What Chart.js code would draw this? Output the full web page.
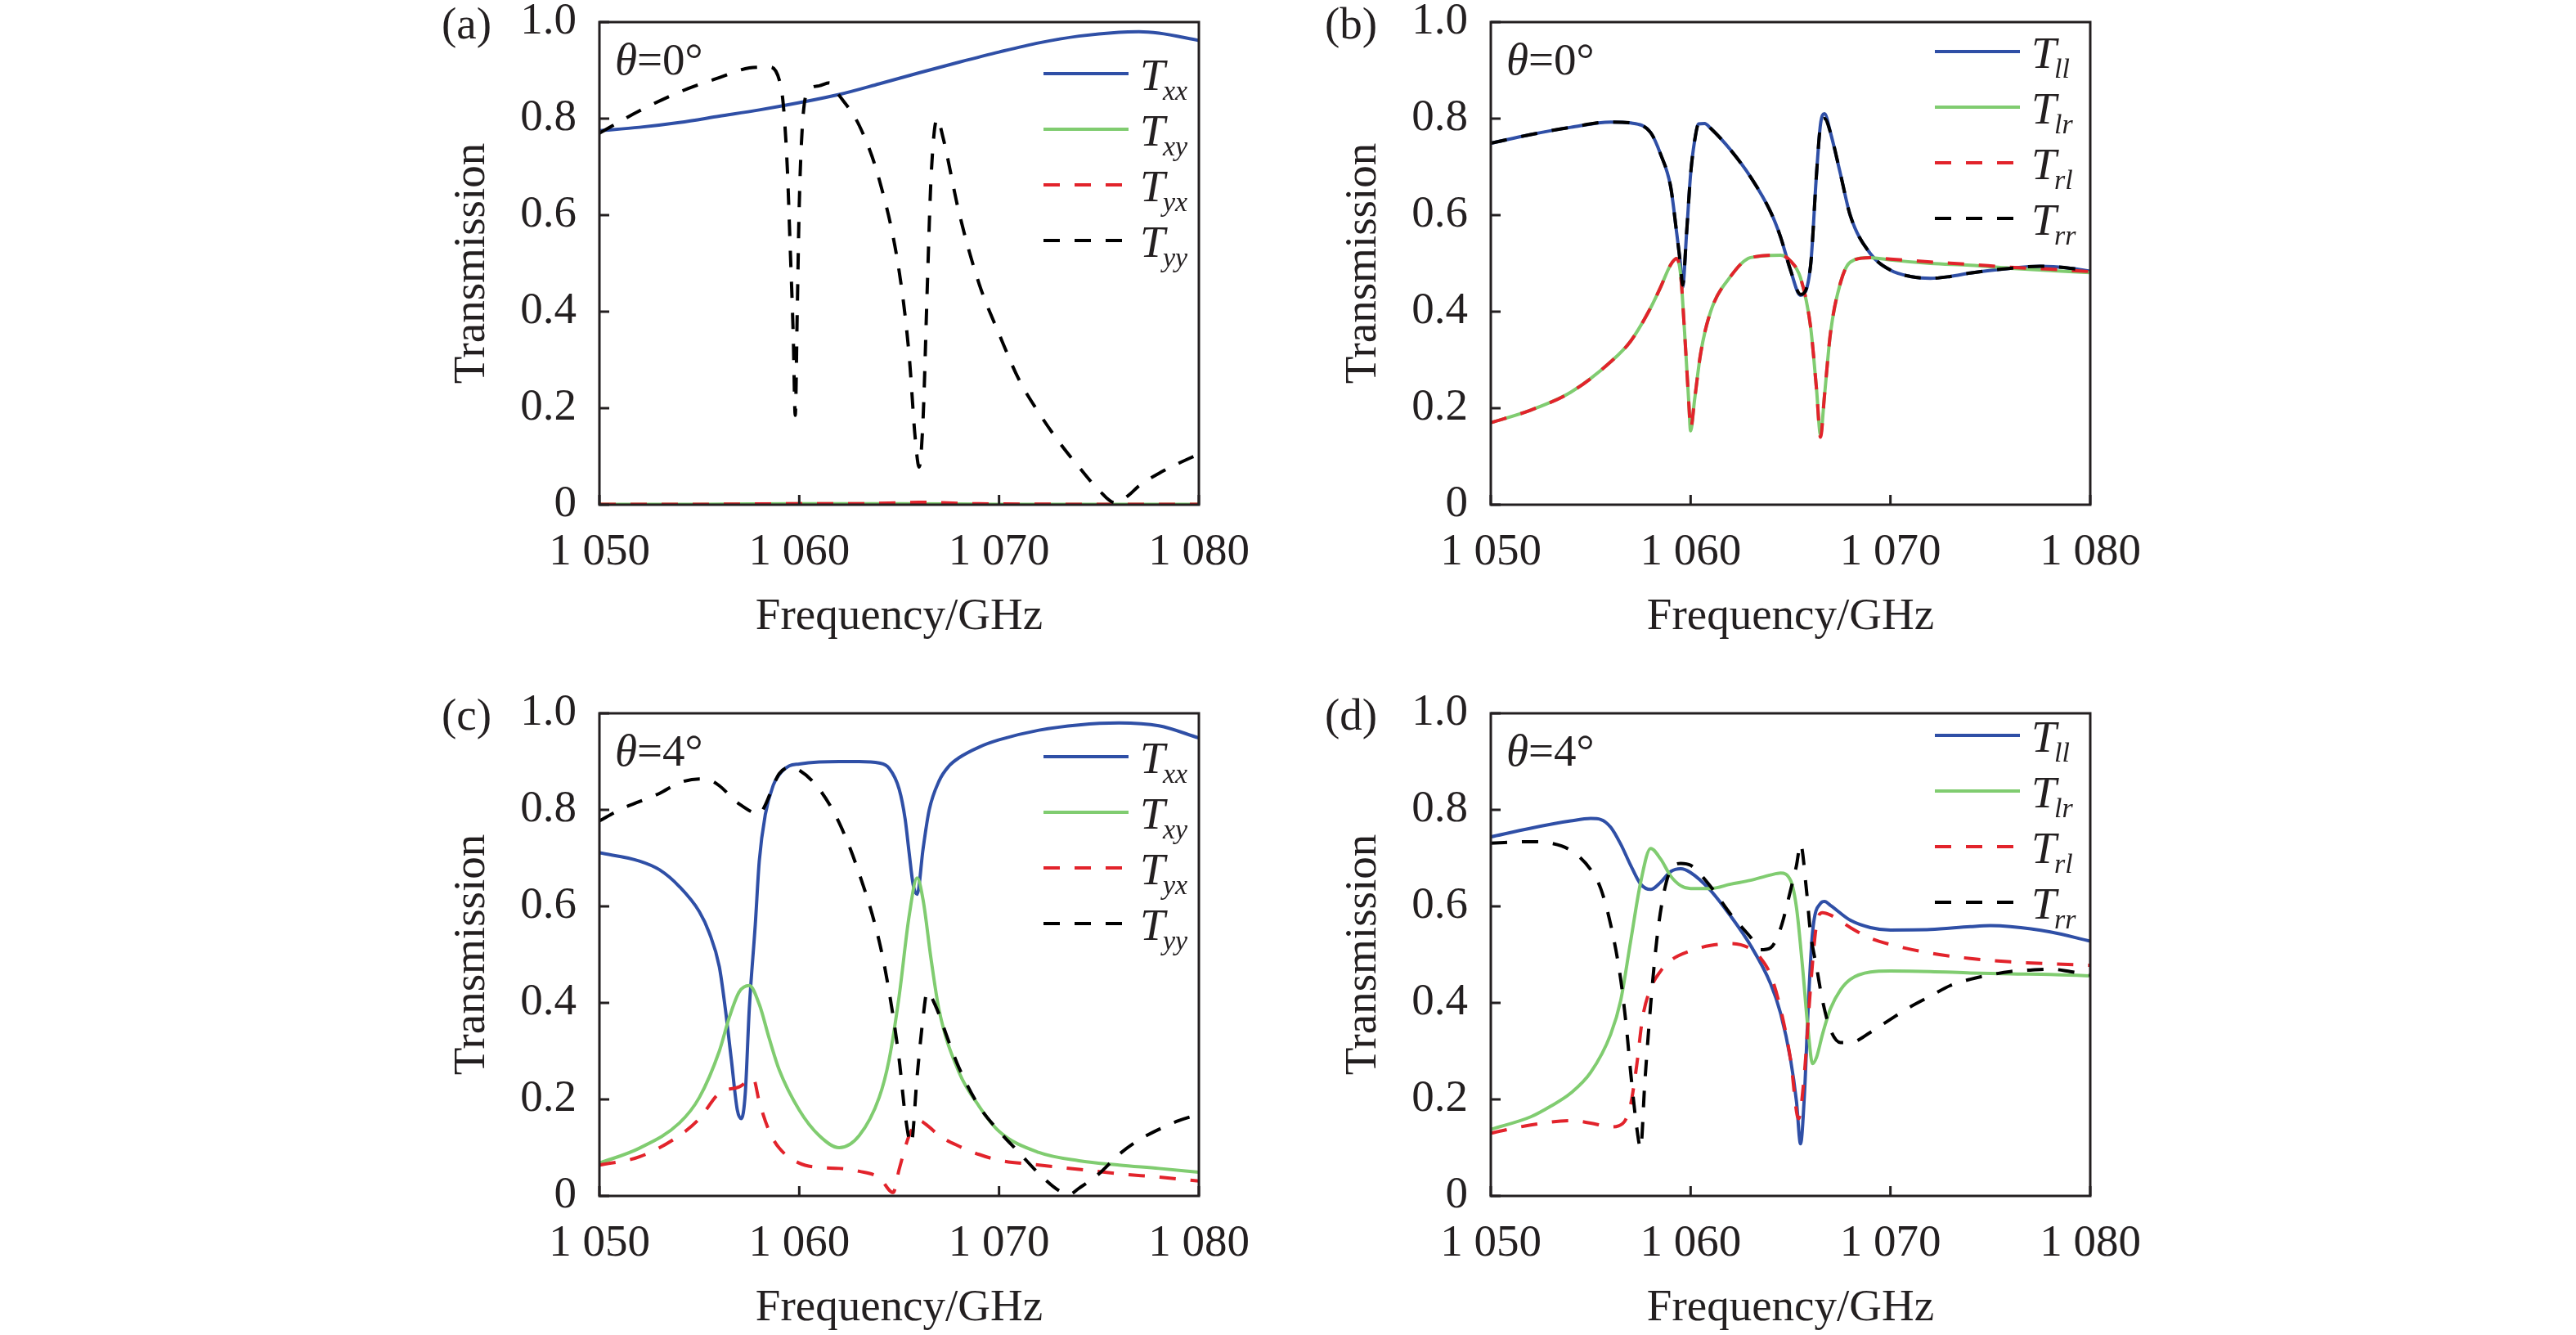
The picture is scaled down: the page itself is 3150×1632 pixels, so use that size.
<!DOCTYPE html>
<html>
<head>
<meta charset="utf-8">
<script src="https://cdn.jsdelivr.net/npm/chart.js"></script>
<style>
  html, body { margin: 0; padding: 0; background: #ffffff; }
  body { width: 3150px; height: 1632px; position: relative; overflow: hidden; }
  .panel { position: absolute; width: 1040px; height: 800px; }
</style>
</head>
<body>
<div class="panel" style="left:520px; top:0px;"><canvas id="ca"></canvas></div>
<div class="panel" style="left:1610px; top:0px;"><canvas id="cb"></canvas></div>
<div class="panel" style="left:520px; top:845px;"><canvas id="cc"></canvas></div>
<div class="panel" style="left:1610px; top:845px;"><canvas id="cd"></canvas></div>
<script>
// ---------- tick labels ----------
const xTickValues = [1050, 1060, 1070, 1080];
const xTickLabels = ['1 050', '1 060', '1 070', '1 080'];
const yTickValues = [0, 0.2, 0.4, 0.6, 0.8, 1.0];
const yTickLabels = ['0', '0.2', '0.4', '0.6', '0.8', '1.0'];

// ---------- panel (a): theta = 0, linear basis ----------
const aTxxF = [1050,1052,1054,1056,1058,1060,1062,1064,1066,1068,1070,1072,1074,1076,1077,1078,1080];
const aTxx  = [0.775,0.782,0.792,0.805,0.818,0.833,0.850,0.872,0.895,0.917,0.938,0.957,0.971,0.979,0.980,0.977,0.962];
const aTxyF = [1050,1055,1060,1065,1070,1075,1080];
const aTxy  = [0.001,0.001,0.002,0.002,0.001,0.001,0.001];
const aTyxF = [1050,1055,1060,1063,1066,1069,1075,1080];
const aTyx  = [0.001,0.001,0.002,0.002,0.005,0.002,0.001,0.001];
const aTyyF = [1050,1052,1054,1056,1057.5,1058.5,1059,1059.2,1059.4,1059.55,1059.7,1059.8,1059.9,1060,1060.15,1060.4,1061,1061.5,1062,1063,1064,1065,1065.5,1065.8,1066,1066.2,1066.4,1066.6,1066.9,1067.2,1068,1069,1070,1071,1072,1073,1074,1075,1075.8,1076.5,1077,1078,1079,1080];
const aTyy  = [0.77,0.816,0.855,0.885,0.905,0.907,0.88,0.83,0.70,0.53,0.35,0.185,0.40,0.62,0.78,0.855,0.868,0.874,0.848,0.786,0.674,0.484,0.31,0.14,0.078,0.18,0.44,0.68,0.80,0.76,0.605,0.458,0.354,0.259,0.19,0.13,0.078,0.03,0.004,0.02,0.039,0.065,0.086,0.105];

// ---------- panel (b): theta = 0, circular basis ----------
const bTllF = [1050,1052,1054,1056,1057,1058,1058.5,1059,1059.3,1059.5,1059.6,1059.8,1060,1060.2,1060.4,1060.7,1061,1062,1063,1064,1064.5,1065,1065.5,1066,1066.3,1066.5,1066.7,1067,1067.5,1068,1069,1070,1071,1072,1073,1074,1076,1077.5,1079,1080];
const bTll  = [0.749,0.767,0.782,0.793,0.791,0.771,0.726,0.659,0.564,0.495,0.451,0.564,0.685,0.754,0.789,0.790,0.78,0.735,0.679,0.607,0.555,0.486,0.434,0.494,0.685,0.788,0.81,0.771,0.685,0.598,0.52,0.486,0.473,0.469,0.473,0.48,0.49,0.494,0.49,0.484];
const bTrr  = [0.749,0.767,0.782,0.793,0.791,0.771,0.726,0.659,0.564,0.495,0.455,0.564,0.685,0.754,0.789,0.790,0.78,0.735,0.679,0.607,0.555,0.486,0.436,0.494,0.685,0.785,0.80,0.771,0.685,0.598,0.52,0.486,0.473,0.469,0.473,0.48,0.49,0.494,0.49,0.484];
const bTlrF = [1050,1052,1054,1056,1057,1058,1058.5,1059,1059.3,1059.5,1059.7,1059.9,1060,1060.2,1060.5,1061,1062,1063,1064.5,1065,1065.5,1066,1066.3,1066.5,1066.7,1067,1067.5,1068,1069,1070,1072,1074,1076,1078,1080];
const bTlr  = [0.170,0.196,0.233,0.296,0.339,0.408,0.451,0.497,0.51,0.477,0.356,0.218,0.153,0.218,0.313,0.40,0.473,0.512,0.517,0.505,0.47,0.37,0.24,0.145,0.226,0.356,0.46,0.503,0.512,0.507,0.50,0.496,0.49,0.485,0.481];
const bTrl  = [0.170,0.196,0.233,0.296,0.339,0.408,0.451,0.497,0.51,0.477,0.356,0.218,0.158,0.218,0.313,0.40,0.473,0.512,0.517,0.505,0.47,0.37,0.24,0.14,0.226,0.356,0.46,0.503,0.512,0.509,0.503,0.498,0.492,0.488,0.483];

// ---------- panel (c): theta = 4, linear basis ----------
const cTxxF = [1050,1052,1053,1054,1055,1055.5,1056,1056.3,1056.6,1056.9,1057.1,1057.3,1057.5,1057.8,1058,1058.3,1058.7,1059,1059.5,1060,1061,1062,1063,1064,1064.5,1065,1065.3,1065.5,1065.7,1065.9,1066.2,1066.5,1067,1067.5,1068,1069,1070,1072,1074,1076,1078,1080];
const cTxx  = [0.711,0.694,0.676,0.641,0.589,0.545,0.475,0.388,0.283,0.178,0.16,0.213,0.388,0.562,0.694,0.79,0.851,0.873,0.891,0.895,0.899,0.9,0.9,0.897,0.886,0.843,0.781,0.711,0.645,0.625,0.72,0.799,0.86,0.891,0.908,0.93,0.945,0.965,0.976,0.98,0.974,0.949];
const cTxyF = [1050,1052,1054,1055,1056,1056.5,1057,1057.5,1058,1058.5,1059,1060,1061,1062,1063,1064,1064.5,1065,1065.5,1065.9,1066.2,1066.6,1067,1068,1069,1070,1072,1074,1076,1078,1080];
const cTxy  = [0.068,0.099,0.151,0.204,0.30,0.37,0.423,0.436,0.397,0.326,0.261,0.178,0.125,0.10,0.125,0.204,0.283,0.414,0.58,0.659,0.613,0.49,0.385,0.256,0.186,0.134,0.09,0.073,0.064,0.057,0.049];
const cTyxF = [1050,1052,1054,1055,1056,1057,1057.7,1058,1058.5,1059,1060,1061,1062,1063,1064,1064.7,1065,1065.5,1066,1066.5,1067,1068,1069,1070,1072,1074,1076,1078,1080];
const cTyx  = [0.064,0.081,0.125,0.16,0.213,0.226,0.243,0.195,0.134,0.099,0.068,0.059,0.057,0.051,0.038,0.007,0.055,0.125,0.156,0.143,0.125,0.103,0.086,0.074,0.064,0.055,0.046,0.039,0.031];
const cTyyF = [1050,1051,1052,1053,1054,1055,1055.5,1056,1057,1058,1058.3,1058.7,1059,1059.5,1060,1061,1062,1063,1064,1064.5,1065,1065.3,1065.6,1065.9,1066.2,1066.4,1066.8,1067.5,1068,1069,1070,1071,1072,1073,1073.5,1074,1075,1076,1077,1078,1079,1080];
const cTyy  = [0.777,0.80,0.817,0.834,0.856,0.864,0.862,0.85,0.812,0.792,0.81,0.85,0.875,0.888,0.882,0.843,0.773,0.668,0.528,0.423,0.283,0.169,0.108,0.248,0.37,0.423,0.396,0.318,0.265,0.186,0.134,0.09,0.046,0.011,0.003,0.016,0.046,0.086,0.116,0.138,0.156,0.169];

// ---------- panel (d): theta = 4, circular basis ----------
const dTllF = [1050,1052,1054,1055,1055.5,1056,1056.5,1057,1057.5,1058,1058.5,1059,1059.5,1060,1061,1062,1063,1064,1064.5,1065,1065.3,1065.5,1065.7,1065.9,1066.1,1066.5,1066.7,1067,1068,1069,1070,1072,1074,1075,1076,1078,1080];
const dTll  = [0.744,0.762,0.777,0.782,0.78,0.764,0.729,0.685,0.646,0.635,0.65,0.672,0.678,0.67,0.633,0.58,0.519,0.44,0.379,0.283,0.195,0.108,0.213,0.405,0.545,0.606,0.61,0.602,0.571,0.556,0.551,0.552,0.558,0.56,0.558,0.547,0.528];
const dTlrF = [1050,1052,1053,1054,1055,1056,1056.5,1057,1057.5,1058,1058.5,1059,1059.5,1060,1061,1062,1063,1064,1064.5,1065,1065.3,1065.6,1065.9,1066.1,1066.3,1066.6,1067,1067.5,1068,1069,1070,1072,1074,1076,1078,1080];
const dTlr  = [0.138,0.164,0.186,0.213,0.256,0.335,0.405,0.528,0.65,0.72,0.698,0.663,0.643,0.637,0.637,0.646,0.654,0.665,0.669,0.654,0.597,0.475,0.335,0.274,0.287,0.335,0.388,0.427,0.449,0.464,0.466,0.465,0.462,0.46,0.459,0.456];
const dTrlF = [1050,1052,1054,1055,1056,1056.6,1057,1057.3,1057.6,1058,1058.5,1059,1060,1061,1062,1063,1063.5,1064,1064.5,1065,1065.4,1065.7,1066,1066.3,1066.6,1067,1068,1069,1070,1072,1074,1076,1078,1080];
const dTrl  = [0.13,0.147,0.156,0.151,0.143,0.15,0.19,0.27,0.37,0.43,0.466,0.488,0.508,0.519,0.523,0.512,0.493,0.458,0.388,0.283,0.16,0.256,0.431,0.562,0.587,0.582,0.556,0.534,0.521,0.503,0.492,0.485,0.481,0.478];
const dTrrF = [1050,1052,1053,1054,1055,1055.5,1056,1056.5,1056.8,1057,1057.3,1057.5,1057.7,1058,1058.3,1058.6,1059,1059.5,1060,1061,1062,1063,1063.5,1064,1064.5,1065,1065.3,1065.5,1065.8,1066,1066.3,1066.6,1067,1067.5,1068,1069,1070,1071,1072,1073,1074,1075,1076,1077,1078,1079,1080];
const dTrr  = [0.731,0.734,0.731,0.716,0.676,0.637,0.562,0.449,0.344,0.256,0.143,0.099,0.23,0.396,0.528,0.615,0.676,0.689,0.685,0.641,0.584,0.536,0.51,0.514,0.554,0.633,0.685,0.729,0.633,0.545,0.475,0.405,0.344,0.318,0.318,0.339,0.366,0.392,0.414,0.436,0.449,0.458,0.465,0.468,0.47,0.465,0.458];

// ---------- style ----------
const FONT = "'Liberation Serif', 'Times New Roman', serif";
const TEXT = '#231f20';
const BLUE = '#2f4fa6';
const GREEN = '#80cc70';
const RED = '#e2232b';
const BLACK = '#000000';
const DASH = [20, 18];

function pts(fx, fy) { return fx.map((x, i) => ({ x: x, y: fy[i] })); }

function ds(label, fx, fy, color, dashed, idx) {
  return {
    label: label,
    data: pts(fx, fy),
    borderColor: color,
    backgroundColor: color,
    borderWidth: 4,
    borderDash: dashed ? DASH : [],
    pointRadius: 0,
    fill: false,
    cubicInterpolationMode: 'monotone',
    order: 3 - idx
  };
}

const decorPlugin = {
  id: 'decor',
  afterDraw(chart, args, o) {
    const ctx = chart.ctx, a = chart.chartArea;
    const xs = chart.scales.x, ys = chart.scales.y;
    ctx.save();
    // inner ticks
    ctx.strokeStyle = TEXT; ctx.lineWidth = 3; ctx.setLineDash([]);
    ctx.beginPath();
    xTickValues.forEach(v => { const p = xs.getPixelForValue(v); ctx.moveTo(p, a.bottom); ctx.lineTo(p, a.bottom - 12); });
    yTickValues.forEach(v => { const p = ys.getPixelForValue(v); ctx.moveTo(a.left, p); ctx.lineTo(a.left + 12, p); });
    ctx.stroke();
    // frame
    ctx.strokeRect(a.left, a.top, a.right - a.left, a.bottom - a.top);
    // panel label
    ctx.fillStyle = TEXT;
    ctx.textAlign = 'left';
    ctx.textBaseline = 'middle';
    ctx.font = '55px ' + FONT;
    ctx.fillText(o.panel, a.left - o.panelDx, a.top + 6);
    // angle label
    ctx.textBaseline = 'alphabetic';
    ctx.font = 'italic 55px ' + FONT;
    ctx.fillText('\u03b8', a.left + 19, a.top + 64);
    const w = ctx.measureText('\u03b8').width;
    ctx.font = '55px ' + FONT;
    ctx.fillText(o.angle, a.left + 19 + w, a.top + 64);
    // legend
    chart.data.datasets.forEach((d, i) => {
      const y = a.top + o.legendTop + i * 68;
      ctx.strokeStyle = d.borderColor; ctx.lineWidth = 4; ctx.lineCap = 'butt';
      ctx.setLineDash(d.borderDash || []);
      ctx.beginPath(); ctx.moveTo(a.right - 190, y); ctx.lineTo(a.right - 86, y); ctx.stroke();
      ctx.setLineDash([]);
      ctx.fillStyle = TEXT;
      ctx.font = 'italic 55px ' + FONT;
      ctx.fillText('T', a.right - 72, y + 20);
      ctx.font = 'italic 34px ' + FONT;
      ctx.fillText(d.label.slice(1), a.right - 72 + 28, y + 32);
    });
    ctx.restore();
  }
};

function makeChart(id, datasets, panel, panelDx, angle, legendTop) {
  return new Chart(document.getElementById(id), {
    type: 'line',
    data: { datasets: datasets },
    options: {
      responsive: true,
      maintainAspectRatio: false,
      animation: false,
      devicePixelRatio: 1,
      layout: { padding: { top: 27, right: 94, left: 0, bottom: 0 } },
      plugins: {
        legend: { display: false },
        tooltip: { enabled: false },
        decor: { panel: panel, panelDx: panelDx, angle: angle, legendTop: legendTop }
      },
      scales: {
        x: {
          type: 'linear', min: 1050, max: 1080,
          grid: { display: false }, border: { display: false },
          ticks: {
            stepSize: 10, padding: 18, maxRotation: 0, autoSkip: false,
            color: TEXT, font: { family: FONT, size: 55 },
            callback: v => { const k = xTickValues.indexOf(v); return k >= 0 ? xTickLabels[k] : ''; }
          },
          title: { display: true, text: 'Frequency/GHz', color: TEXT, font: { family: FONT, size: 55 }, padding: { top: 0, bottom: 12 } },
          afterFit: s => { s.height = 183; s.paddingLeft = 0; s.paddingRight = 0; }
        },
        y: {
          type: 'linear', min: 0, max: 1,
          grid: { display: false }, border: { display: false },
          ticks: {
            stepSize: 0.2, padding: 20,
            color: TEXT, font: { family: FONT, size: 55 },
            callback: v => { const k = yTickValues.findIndex(t => Math.abs(t - v) < 1e-6); return k >= 0 ? yTickLabels[k] : ''; }
          },
          title: { display: true, text: 'Transmission', color: TEXT, font: { family: FONT, size: 55 }, padding: { top: 25, bottom: 0 } },
          afterFit: s => { s.width = 213; s.paddingTop = 0; s.paddingBottom = 0; }
        }
      }
    },
    plugins: [decorPlugin]
  });
}

makeChart('ca', [
  ds('Txx', aTxxF, aTxx, BLUE, false, 0),
  ds('Txy', aTxyF, aTxy, GREEN, false, 1),
  ds('Tyx', aTyxF, aTyx, RED, true, 2),
  ds('Tyy', aTyyF, aTyy, BLACK, true, 3)
], '(a)', 193, '=0\u00b0', 63);

makeChart('cb', [
  ds('Tll', bTllF, bTll, BLUE, false, 0),
  ds('Tlr', bTlrF, bTlr, GREEN, false, 1),
  ds('Trl', bTlrF, bTrl, RED, true, 2),
  ds('Trr', bTllF, bTrr, BLACK, true, 3)
], '(b)', 203, '=0\u00b0', 36);

makeChart('cc', [
  ds('Txx', cTxxF, cTxx, BLUE, false, 0),
  ds('Txy', cTxyF, cTxy, GREEN, false, 1),
  ds('Tyx', cTyxF, cTyx, RED, true, 2),
  ds('Tyy', cTyyF, cTyy, BLACK, true, 3)
], '(c)', 193, '=4\u00b0', 53);

makeChart('cd', [
  ds('Tll', dTllF, dTll, BLUE, false, 0),
  ds('Tlr', dTlrF, dTlr, GREEN, false, 1),
  ds('Trl', dTrlF, dTrl, RED, true, 2),
  ds('Trr', dTrrF, dTrr, BLACK, true, 3)
], '(d)', 203, '=4\u00b0', 27);
</script>
</body>
</html>
